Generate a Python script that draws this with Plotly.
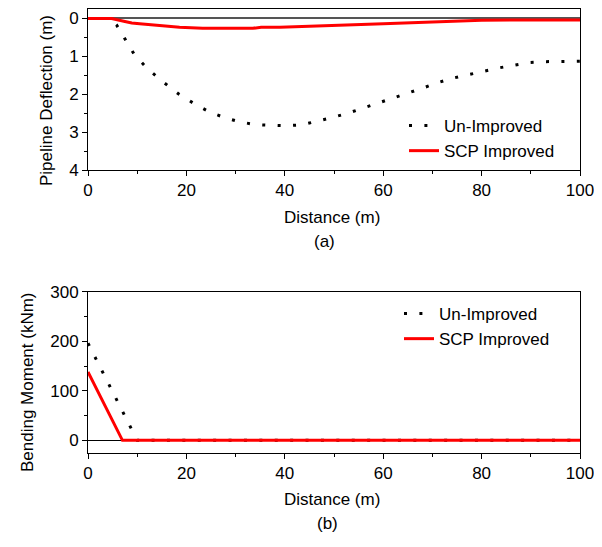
import plotly.graph_objects as go

# ---- data ----
defl_x_unimp = [0, 4.5, 5.8, 7.6, 9.5, 12.3, 15.5, 18.5, 21.6, 24.7, 27.8, 30.9, 33.9, 37.0, 40.2,
                43.4, 46.4, 49.5, 52.6, 55.7, 58.8, 61.9, 65.0, 68.2, 71.2, 74.3, 77.4, 80.6,
                83.7, 86.8, 89.9, 93.0, 96.1, 100]
defl_y_unimp = [0, 0, 0.17, 0.57, 0.97, 1.35, 1.70, 2.00, 2.25, 2.47, 2.62, 2.73, 2.80, 2.82, 2.83,
                2.81, 2.72, 2.62, 2.51, 2.37, 2.24, 2.10, 1.97, 1.83, 1.69, 1.57, 1.48, 1.38,
                1.30, 1.23, 1.16, 1.14, 1.13, 1.13]
defl_x_scp = [0, 4.8, 7.5, 8.9, 10.5, 15.2, 18.6, 23.3, 33.5, 35.2, 39, 60, 80, 87, 100]
defl_y_scp = [0, 0, 0.08, 0.12, 0.14, 0.19, 0.23, 0.26, 0.26, 0.23, 0.23, 0.14, 0.05, 0.04, 0.04]

bm_x_unimp = [0, 10, 100]
bm_y_unimp = [196, 0, 0]
bm_x_scp = [0, 7, 100]
bm_y_scp = [138, 0, 0]

series_names = ["Un-Improved", "SCP Improved"]
x_ticks = [0, 20, 40, 60, 80, 100]
defl_ticks = [0, 1, 2, 3, 4]
bm_ticks = [0, 100, 200, 300]

FONT = "Liberation Sans, Arial, sans-serif"
W, H = 602, 547
OFF = 8  # page body margin offset


def fx(px):
    return (px - OFF) / W


def fy(py):
    return 1 - (py - OFF) / H


dot_line = dict(color="black", width=3, dash="3px,12.4px")
red_line = dict(color="#ff0000", width=3)

fig = go.Figure()
fig.add_trace(go.Scatter(x=defl_x_unimp, y=defl_y_unimp, mode="lines", line=dot_line,
                         name=series_names[0], xaxis="x", yaxis="y", legend="legend"))
fig.add_trace(go.Scatter(x=defl_x_scp, y=defl_y_scp, mode="lines", line=red_line,
                         name=series_names[1], xaxis="x", yaxis="y", legend="legend"))
fig.add_trace(go.Scatter(x=bm_x_unimp, y=bm_y_unimp, mode="lines", line=dot_line,
                         name=series_names[0], xaxis="x2", yaxis="y2", legend="legend2"))
fig.add_trace(go.Scatter(x=bm_x_scp, y=bm_y_scp, mode="lines", line=red_line,
                         name=series_names[1], xaxis="x2", yaxis="y2", legend="legend2"))

xdom = [fx(88), fx(580)]
top_dom = [fy(170), fy(9)]
bot_dom = [fy(452.7), fy(291.7)]

axis_common = dict(showline=True, linecolor="black", linewidth=1, mirror=True,
                   ticks="outside", ticklen=5, tickwidth=1, tickcolor="black",
                   showgrid=False, automargin=False,
                   tickfont=dict(family=FONT, size=17, color="black"))
minor_common = dict(ticks="outside", ticklen=3, tickwidth=1, tickcolor="black", showgrid=False)

fig.update_layout(
    width=W, height=H, margin=dict(l=0, r=0, t=0, b=0, autoexpand=False),
    paper_bgcolor="white", plot_bgcolor="white",
    font=dict(family=FONT, size=17, color="black"),
    xaxis=dict(domain=xdom, anchor="y", range=[0, 100], tickvals=x_ticks,
               minor=dict(dtick=10, **minor_common), zeroline=False, **axis_common),
    yaxis=dict(domain=top_dom, anchor="x", range=[4, -0.25], tickvals=defl_ticks,
               minor=dict(dtick=0.5, **minor_common), zeroline=True,
               zerolinecolor="#555555", zerolinewidth=2, **axis_common),
    xaxis2=dict(domain=xdom, anchor="y2", range=[0, 100], tickvals=x_ticks,
                minor=dict(dtick=10, **minor_common), zeroline=False, **axis_common),
    yaxis2=dict(domain=bot_dom, anchor="x2", range=[-25, 300], tickvals=bm_ticks,
                minor=dict(dtick=50, **minor_common), zeroline=True,
                zerolinecolor="black", zerolinewidth=1, **axis_common),
    legend=dict(x=fx(404), y=fy(108), xanchor="left", yanchor="top",
                bgcolor="rgba(0,0,0,0)", font=dict(family=FONT, size=17),
                tracegroupgap=0, itemwidth=30),
    legend2=dict(x=fx(399), y=fy(296), xanchor="left", yanchor="top",
                 bgcolor="rgba(0,0,0,0)", font=dict(family=FONT, size=17),
                 tracegroupgap=0, itemwidth=30),
    showlegend=True,
)

ann = [
    dict(text="Distance (m)", x=fx(332), y=fy(217)),
    dict(text="(a)", x=fx(324), y=fy(241)),
    dict(text="Distance (m)", x=fx(332), y=fy(500)),
    dict(text="(b)", x=fx(327), y=fy(523)),
    dict(text="Pipeline Deflection (m)", x=fx(46), y=fy(101), textangle=-90),
    dict(text="Bending Moment (kNm)", x=fx(27), y=fy(382), textangle=-90),
]
for a in ann:
    fig.add_annotation(xref="paper", yref="paper", xanchor="center", yanchor="middle",
                       showarrow=False, font=dict(family=FONT, size=17, color="black"), **a)

fig.write_html("out.html")
